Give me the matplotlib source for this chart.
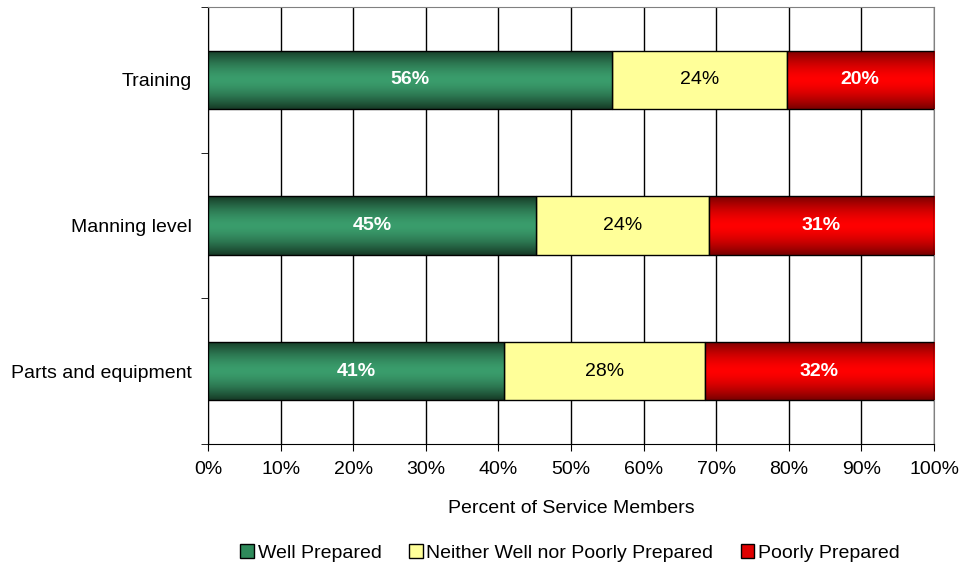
import matplotlib.pyplot as plt
import numpy as np
from matplotlib.patches import Patch

plt.rcParams['font.family'] = ['Liberation Sans', 'DejaVu Sans']

categories = ["Parts and equipment", "Manning level", "Training"]
well = [40.8, 45.2, 55.7]
neither = [27.6, 23.8, 24.0]
poorly = [31.6, 31.0, 20.3]
series_names = ["Well Prepared", "Neither Well nor Poorly Prepared", "Poorly Prepared"]

# (edge colour, centre colour) for the shaded bars, None = flat fill
shades = [("#163a26", "#3a9d6c"), None, ("#7a0000", "#ff0000")]
flat = ["#2e8a5a", "#ffff99", "#e00000"]
text_colors = ["white", "black", "white"]
bold = [True, False, True]

fig = plt.figure(figsize=(9.63, 5.69), dpi=100)
ax = fig.add_axes([208 / 963, 1 - 444 / 569, (934 - 208) / 963, (444 - 7) / 569])

y = np.arange(len(categories))
h = 0.4
left = np.zeros(len(categories))


def gradient(c0, c1, n=64):
    c0 = np.array(plt.matplotlib.colors.to_rgb(c0))
    c1 = np.array(plt.matplotlib.colors.to_rgb(c1))
    t = np.linspace(-1, 1, n)
    w = (1 - np.abs(t) ** 1.6)[:, None]
    return (c0 * (1 - w) + c1 * w)[:, None, :]


for k, vals in enumerate([well, neither, poorly]):
    bars = ax.barh(y, vals, left=left, height=h, color=flat[k],
                   edgecolor="black", linewidth=1, zorder=3)
    for b, v in zip(bars, vals):
        if shades[k] is not None:
            img = gradient(*shades[k])
            x0, y0 = b.get_x(), b.get_y()
            im = ax.imshow(img, extent=[x0, x0 + b.get_width(), y0, y0 + h],
                           aspect="auto", zorder=3.5, interpolation="bilinear")
            im.set_clip_path(b)
            b.set_facecolor("none")
            b.set_zorder(4)
        ax.text(b.get_x() + b.get_width() / 2, b.get_y() + h / 2, f"{v:.0f}%",
                ha="center", va="center", fontsize=14, color=text_colors[k],
                fontweight="bold" if bold[k] else "normal", zorder=5)
    left += np.array(vals)

ax.set_xlim(0, 100)
ax.set_ylim(-0.5, len(categories) - 0.5)
ax.set_xticks(np.arange(0, 101, 10))
ax.set_xticklabels([f"{v}%" for v in range(0, 101, 10)], fontsize=14)
ax.set_yticks(y)
ax.set_yticklabels(categories, fontsize=14)
ax.tick_params(axis="y", length=0, pad=11.5)
ax.set_yticks(np.arange(-0.5, len(categories), 1), minor=True)
ax.tick_params(axis="y", which="minor", length=5, color="black")
ax.tick_params(axis="x", length=5, color="black", pad=7)
ax.set_xlabel("Percent of Service Members", fontsize=14, labelpad=16)

ax.grid(axis="x", color="black", linewidth=1, zorder=0)
ax.set_axisbelow(True)
for s in ["top", "right"]:
    ax.spines[s].set_color("#808080")
ax.spines["left"].set_color("black")
ax.spines["bottom"].set_color("black")

handles = [Patch(facecolor=c, edgecolor="black") for c in flat]
fig.legend(handles, series_names, loc="center", bbox_to_anchor=(0.592, 1 - 553 / 569),
           ncol=3, frameon=False, fontsize=14, handlelength=0.7, handleheight=0.7,
           handletextpad=0.2, columnspacing=1.4)

fig.savefig("out.png", dpi=100)
